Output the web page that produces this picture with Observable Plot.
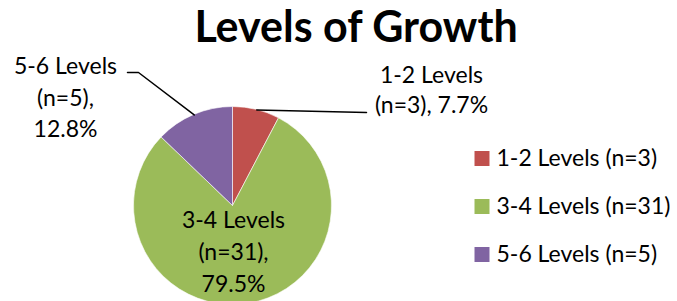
<!DOCTYPE html>
<html><head><meta charset="utf-8">
<script src="https://cdn.jsdelivr.net/npm/d3@7"></script>
<script src="https://cdn.jsdelivr.net/npm/@observablehq/plot@0.6"></script>
<style>html,body{margin:0;padding:0;background:#fff;overflow:hidden;}</style>
</head><body><div id="chart"></div>
<script>
const title = "Levels of Growth";
const categories = ["1-2 Levels", "3-4 Levels", "5-6 Levels"];
const counts = [3, 31, 5];
const percents = ["7.7%", "79.5%", "12.8%"];
const colors = ["#C0504D", "#9BBB59", "#8064A2"];

const W = 677, H = 301;
const cx = 232.5, cy = 205.5, R = 99;
const font = "Lato, 'Open Sans', sans-serif";

const rows = categories.map((c, i) => ({category: c, n: counts[i], pct: percents[i]}));
const arcs = d3.pie().sort(null).value(d => d.n)(rows);
function edge(a) {
  const m = (a.startAngle + a.endAngle) / 2;
  return [cx + R * Math.sin(m), cy - R * Math.cos(m)];
}

// slice label layout
const labelText = [
  `${rows[0].category}\n(n=${rows[0].n}), ${rows[0].pct}`,
  `${rows[1].category}\n(n=${rows[1].n}),\n${rows[1].pct}`,
  `${rows[2].category}\n(n=${rows[2].n}),\n${rows[2].pct}`
];
const labelPos = [[431, 88], [233, 249], [65, 95]];
const labels = labelText.map((t, i) => ({t, x: labelPos[i][0], y: labelPos[i][1]}));

// leader lines: from slice edge midpoint to label
const leaders = [];
{
  const e0 = edge(arcs[0]);
  [[e0[0], e0[1]], [366, 112]].forEach(p => leaders.push({k: 0, x: p[0], y: p[1]}));
  const e2 = edge(arcs[2]);
  [[e2[0], e2[1]], [138, 72], [127, 72]].forEach(p => leaders.push({k: 2, x: p[0], y: p[1]}));
}

const pieMark = (index, scales) => {
  const X = scales.x, Y = scales.y;
  const r = X(cx + R) - X(cx);
  const arc = d3.arc().innerRadius(0).outerRadius(r);
  const g = d3.create("svg:g").attr("transform", `translate(${X(cx)},${Y(cy)})`);
  g.selectAll("path").data(arcs).join("path")
    .attr("d", arc)
    .attr("fill", d => scales.color(d.data.category))
    .attr("stroke", "#fff").attr("stroke-width", 0.6);
  return g.node();
};

const fs = 23;
const chart = Plot.plot({
  width: W, height: H, margin: 0,
  style: {fontFamily: font, background: "#fff", overflow: "hidden"},
  x: {type: "linear", domain: [0, W], range: [0, W], axis: null},
  y: {type: "linear", domain: [0, H], range: [0, H], axis: null},
  color: {domain: categories, range: colors},
  marks: [
    pieMark,
    Plot.line(leaders, {x: "x", y: "y", z: "k", stroke: "black", strokeWidth: 1.5}),
    Plot.text([labels[0]], {x: "x", y: "y", text: "t", fontSize: fs, lineHeight: 30 / fs, fill: "black"}),
    Plot.text([labels[1]], {x: "x", y: "y", text: "t", fontSize: fs, lineHeight: 32 / fs, fill: "black"}),
    Plot.text([labels[2]], {x: "x", y: "y", text: "t", fontSize: fs, lineHeight: 31.5 / fs, fill: "black"}),
    Plot.dot(rows, {x: () => 481.5, y: (d, i) => 158 + 48 * i, symbol: "square", r: 8.46, fill: "category"}),
    Plot.text(rows, {x: () => 496, y: (d, i) => 158 + 48 * i, text: d => `${d.category} (n=${d.n})`, textAnchor: "start", fontSize: fs, fill: "black"}),
    Plot.text([title], {x: () => 355.5, y: () => 28, text: d => d, fontSize: 43, fontWeight: "bold", fill: "black"})
  ]
});
document.getElementById("chart").appendChild(chart);
</script>
</body></html>
